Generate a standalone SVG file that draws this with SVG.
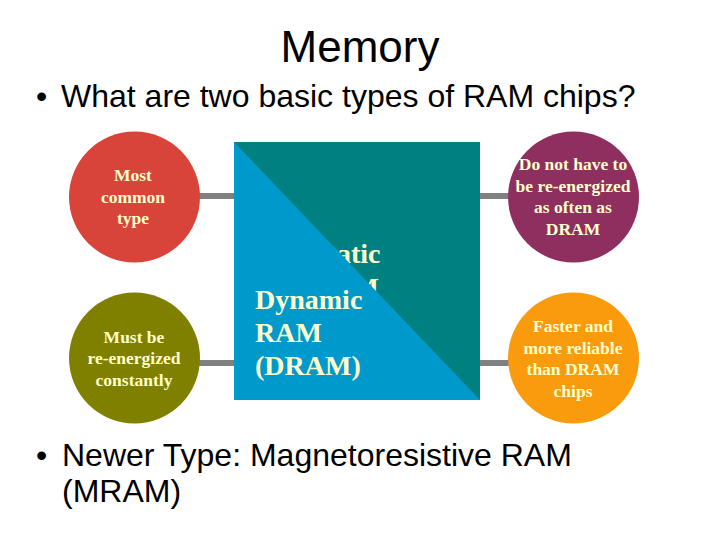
<svg xmlns="http://www.w3.org/2000/svg" width="720" height="540" viewBox="0 0 720 540">
<style>
.h{font-family:"Liberation Sans",Arial,sans-serif;fill:#000}
.c{font-family:"Liberation Serif","Times New Roman",serif;font-weight:bold;font-size:17.5px;fill:#FFFFCC;text-anchor:middle}
.big{font-family:"Liberation Serif","Times New Roman",serif;font-weight:bold;font-size:28px;fill:#FFFFCC}
.conn{stroke:#808080;stroke-width:6;fill:none}
</style>
<rect width="720" height="540" fill="#fff"/>
<text class="h" x="360" y="62" font-size="44" text-anchor="middle">Memory</text>
<text class="h" x="36" y="107" font-size="32">•</text>
<text class="h" x="61" y="107" font-size="32">What are two basic types of RAM chips?</text>
<g id="connectors">
<line class="conn" x1="190" y1="196" x2="240" y2="196"/>
<line class="conn" x1="475" y1="196" x2="515" y2="196"/>
<line class="conn" x1="190" y1="363" x2="240" y2="363"/>
<line class="conn" x1="475" y1="363" x2="515" y2="363"/>
</g>
<g id="ram">
<rect x="234" y="142" width="246" height="258" fill="#008080"/>
<text class="big" x="312" y="263">Static</text>
<text class="big" x="312" y="297">RAM</text>
<polygon points="234,142 480,400 234,400" fill="#0099CC"/>
<text class="big" x="255" y="309">Dynamic</text>
<text class="big" x="255" y="342">RAM</text>
<text class="big" x="255" y="375">(DRAM)</text>
</g>
<g id="most-common">
<circle cx="134.5" cy="197" r="65.5" fill="#D9443A"/>
<text class="c" x="133" y="181">Most</text>
<text class="c" x="133" y="203">common</text>
<text class="c" x="133" y="224">type</text>
</g>
<g id="must-be">
<circle cx="134.5" cy="358" r="65.5" fill="#808000"/>
<text class="c" x="134" y="343">Must be</text>
<text class="c" x="134" y="364">re-energized</text>
<text class="c" x="134" y="386">constantly</text>
</g>
<g id="do-not">
<circle cx="573.5" cy="197" r="65.5" fill="#8F2F60"/>
<text class="c" x="573" y="170">Do not have to</text>
<text class="c" x="573" y="192">be re-energized</text>
<text class="c" x="573" y="213">as often as</text>
<text class="c" x="573" y="235">DRAM</text>
</g>
<g id="faster">
<circle cx="573.5" cy="358" r="65.5" fill="#F99B0C"/>
<text class="c" x="573" y="332">Faster and</text>
<text class="c" x="573" y="354">more reliable</text>
<text class="c" x="573" y="375">than DRAM</text>
<text class="c" x="573" y="397">chips</text>
</g>
<text class="h" x="36" y="466" font-size="32">•</text>
<text class="h" x="62" y="466" font-size="32">Newer Type: Magnetoresistive RAM</text>
<text class="h" x="62" y="502" font-size="32">(MRAM)</text>
</svg>
